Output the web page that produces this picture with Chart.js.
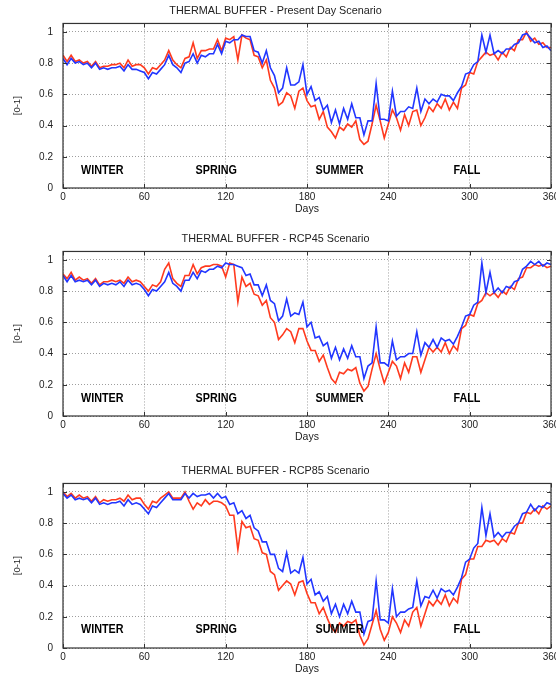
<!DOCTYPE html>
<html><head><meta charset="utf-8">
<script src="https://cdn.jsdelivr.net/npm/chart.js@4.4.1/dist/chart.umd.min.js"></script>
<style>
html,body{margin:0;padding:0;background:#fff;overflow:hidden;width:556px;height:677px;position:relative}
.p{position:absolute;left:0;width:614px;height:220px}
canvas{display:block}
</style></head><body>
<div class="p" style="top:0px"><canvas id="c1" width="614" height="220" style="width:614px;height:220px"></canvas></div>
<div class="p" style="top:228px"><canvas id="c2" width="614" height="220" style="width:614px;height:220px"></canvas></div>
<div class="p" style="top:460px"><canvas id="c3" width="614" height="220" style="width:614px;height:220px"></canvas></div>
<script>
const DAYS = [0,3,6,9,12,15,18,21,24,27,30,33,36,39,42,45,48,51,54,57,60,63,66,69,72,75,78,81,84,87,90,93,96,99,102,105,108,111,114,117,120,123,126,129,132,135,138,141,144,147,150,153,156,159,162,165,168,171,174,177,180,183,186,189,192,195,198,201,204,207,210,213,216,219,222,225,228,231,234,237,240,243,246,249,252,255,258,261,264,267,270,273,276,279,282,285,288,291,294,297,300,303,306,309,312,315,318,321,324,327,330,333,336,339,342,345,348,351,354,357,360];

const PRESENT_BLUE = [0.83,0.79,0.83,0.80,0.81,0.79,0.80,0.77,0.80,0.76,
0.77,0.76,0.77,0.77,0.78,0.75,0.79,0.76,0.76,0.75,
0.74,0.70,0.74,0.73,0.76,0.79,0.85,0.79,0.77,0.74,
0.80,0.81,0.86,0.80,0.85,0.84,0.86,0.86,0.92,0.86,
0.94,0.93,0.95,0.95,0.98,0.97,0.97,0.88,0.87,0.80,
0.88,0.77,0.72,0.61,0.64,0.77,0.66,0.66,0.68,0.79,
0.60,0.65,0.56,0.58,0.50,0.53,0.42,0.50,0.41,0.51,
0.44,0.54,0.45,0.45,0.34,0.43,0.43,0.67,0.44,0.44,
0.43,0.62,0.46,0.49,0.49,0.52,0.51,0.64,0.49,0.57,
0.54,0.57,0.55,0.60,0.59,0.59,0.56,0.61,0.65,0.73,
0.74,0.79,0.81,0.98,0.87,0.98,0.86,0.88,0.86,0.89,
0.89,0.92,0.93,0.98,0.99,0.96,0.93,0.94,0.90,0.91,
0.88];
const PRESENT_RED = [0.85,0.81,0.85,0.81,0.82,0.80,0.81,0.78,0.81,0.77,
0.78,0.78,0.79,0.79,0.80,0.77,0.82,0.78,0.79,0.79,
0.77,0.73,0.77,0.76,0.79,0.82,0.88,0.82,0.79,0.77,
0.83,0.84,0.93,0.83,0.88,0.88,0.89,0.89,0.95,0.88,
0.96,0.95,0.97,0.82,0.98,0.96,0.95,0.85,0.84,0.77,
0.82,0.69,0.64,0.53,0.55,0.61,0.59,0.51,0.62,0.64,
0.56,0.52,0.53,0.44,0.49,0.39,0.36,0.32,0.39,0.37,
0.41,0.39,0.43,0.31,0.28,0.30,0.41,0.53,0.43,0.32,
0.41,0.50,0.45,0.37,0.47,0.40,0.49,0.50,0.40,0.45,
0.52,0.49,0.54,0.51,0.57,0.50,0.55,0.51,0.64,0.66,
0.74,0.73,0.81,0.84,0.87,0.85,0.86,0.82,0.87,0.84,
0.90,0.88,0.95,0.95,1.00,0.94,0.96,0.92,0.93,0.90,
0.90];
const RCP45_BLUE = [0.90,0.86,0.90,0.86,0.87,0.86,0.87,0.84,0.87,0.83,
0.85,0.84,0.85,0.84,0.86,0.83,0.87,0.84,0.85,0.84,
0.81,0.77,0.81,0.80,0.83,0.86,0.92,0.85,0.83,0.80,
0.87,0.87,0.92,0.88,0.93,0.92,0.94,0.94,0.96,0.95,
0.98,0.97,0.97,0.96,0.95,0.90,0.91,0.84,0.84,0.77,
0.84,0.74,0.72,0.61,0.64,0.75,0.64,0.66,0.65,0.73,
0.57,0.60,0.50,0.51,0.45,0.47,0.37,0.44,0.36,0.43,
0.37,0.45,0.38,0.38,0.24,0.32,0.34,0.57,0.34,0.34,
0.32,0.48,0.36,0.38,0.38,0.40,0.40,0.54,0.39,0.47,
0.44,0.49,0.44,0.50,0.48,0.49,0.46,0.51,0.57,0.64,
0.65,0.71,0.73,0.98,0.79,0.92,0.79,0.82,0.79,0.83,
0.82,0.86,0.87,0.94,0.96,0.99,0.97,0.99,0.96,0.98,
0.97];
const RCP45_RED = [0.91,0.88,0.92,0.87,0.89,0.87,0.88,0.85,0.88,0.84,
0.86,0.86,0.87,0.86,0.87,0.85,0.89,0.86,0.87,0.86,
0.83,0.80,0.84,0.83,0.86,0.94,0.98,0.88,0.85,0.83,
0.90,0.90,0.97,0.91,0.95,0.96,0.96,0.97,0.97,0.96,
0.89,0.98,0.97,0.73,0.89,0.83,0.85,0.78,0.77,0.71,
0.74,0.63,0.60,0.49,0.52,0.56,0.54,0.47,0.56,0.56,
0.48,0.42,0.42,0.35,0.39,0.31,0.24,0.21,0.28,0.27,
0.30,0.29,0.31,0.21,0.16,0.19,0.30,0.40,0.30,0.21,
0.28,0.35,0.32,0.24,0.34,0.28,0.38,0.38,0.28,0.36,
0.44,0.41,0.44,0.41,0.47,0.40,0.45,0.42,0.56,0.58,
0.65,0.64,0.72,0.74,0.79,0.77,0.79,0.76,0.80,0.78,
0.83,0.81,0.88,0.89,0.95,0.95,0.97,0.96,0.97,0.95,
0.96];
const RCP85_BLUE = [0.99,0.96,0.98,0.95,0.96,0.95,0.96,0.93,0.96,0.92,
0.93,0.92,0.93,0.93,0.94,0.91,0.95,0.92,0.93,0.92,
0.89,0.86,0.91,0.90,0.93,0.96,0.99,0.95,0.95,0.95,
0.99,0.96,0.99,0.97,0.98,0.98,0.99,0.96,0.99,0.96,
0.97,0.92,0.93,0.86,0.88,0.83,0.85,0.77,0.75,0.68,
0.68,0.60,0.60,0.51,0.49,0.61,0.48,0.50,0.48,0.58,
0.41,0.44,0.34,0.36,0.30,0.33,0.22,0.28,0.20,0.28,
0.22,0.30,0.23,0.23,0.09,0.17,0.18,0.43,0.18,0.18,
0.16,0.38,0.20,0.23,0.23,0.25,0.26,0.43,0.27,0.33,
0.32,0.37,0.32,0.38,0.36,0.37,0.34,0.39,0.45,0.55,
0.57,0.64,0.67,0.90,0.72,0.86,0.71,0.74,0.71,0.74,
0.74,0.78,0.80,0.86,0.87,0.92,0.88,0.91,0.90,0.93,
0.92];
const RCP85_RED = [1.00,0.97,0.99,0.96,0.98,0.96,0.97,0.94,0.97,0.93,
0.95,0.94,0.95,0.95,0.96,0.94,0.98,0.95,0.96,0.96,
0.92,0.89,0.94,0.93,0.96,0.98,1.00,0.96,0.96,0.96,
1.00,0.94,0.89,0.93,0.91,0.95,0.92,0.94,0.94,0.93,
0.91,0.85,0.85,0.63,0.81,0.77,0.78,0.70,0.69,0.61,
0.60,0.49,0.47,0.37,0.40,0.43,0.41,0.34,0.42,0.43,
0.35,0.29,0.29,0.22,0.26,0.19,0.13,0.10,0.16,0.14,
0.17,0.16,0.18,0.08,0.02,0.06,0.15,0.24,0.12,0.05,
0.10,0.20,0.16,0.10,0.18,0.14,0.23,0.26,0.14,0.22,
0.30,0.27,0.31,0.28,0.34,0.27,0.32,0.29,0.44,0.47,
0.57,0.57,0.65,0.65,0.69,0.68,0.69,0.66,0.70,0.68,
0.74,0.73,0.80,0.80,0.87,0.86,0.89,0.86,0.91,0.89,
0.91];

const X_TICKS = [0,60,120,180,240,300,360];
const Y_TICKS = [0,0.2,0.4,0.6,0.8,1];
const SEASONS = ['WINTER','SPRING','SUMMER','FALL'];
const SEASON_DAYS = [29,113,204,298];
const TITLES = ['THERMAL BUFFER - Present Day Scenario','THERMAL BUFFER - RCP45 Scenario','THERMAL BUFFER - RCP85 Scenario'];
const SEASON_LEVEL = [0.113,0.113,0.122];

const RED = '#ff3a1e';
const BLUE = '#2236ff';

const framePlugin = {
  id: 'frame',
  afterDatasetsDraw(chart, args, opts) {
    const {ctx, chartArea: a, scales: {x, y}} = chart;
    ctx.save();
    ctx.fillStyle = '#000';
    ctx.font = 'bold 13px "Liberation Sans", Arial, sans-serif';
    ctx.textAlign = 'center';
    ctx.textBaseline = 'middle';
    SEASONS.forEach((s, i) => {
      const px = x.getPixelForValue(SEASON_DAYS[i]);
      const py = y.getPixelForValue(opts.level);
      ctx.save();
      ctx.translate(px, py);
      ctx.scale(0.83, 1);
      ctx.fillText(s, 0, 0);
      ctx.restore();
    });
    ctx.strokeStyle = '#333';
    ctx.lineWidth = 1.2;
    ctx.strokeRect(a.left, a.top, a.right - a.left, a.bottom - a.top);
    ctx.lineWidth = 1;
    ctx.beginPath();
    X_TICKS.forEach(t => {
      const px = Math.round(x.getPixelForValue(t)) + 0.5;
      ctx.moveTo(px, a.bottom); ctx.lineTo(px, a.bottom - 4);
      ctx.moveTo(px, a.top); ctx.lineTo(px, a.top + 4);
    });
    Y_TICKS.forEach(t => {
      const py = Math.round(y.getPixelForValue(t)) + 0.5;
      ctx.moveTo(a.left, py); ctx.lineTo(a.left + 4, py);
      ctx.moveTo(a.right, py); ctx.lineTo(a.right - 4, py);
    });
    ctx.stroke();
    ctx.restore();
  }
};

function makeChart(id, title, red, blue, level) {
  return new Chart(document.getElementById(id), {
    type: 'line',
    data: {
      datasets: [
        {label: 'blue', data: DAYS.map((d, i) => ({x: d, y: blue[i]})), borderColor: BLUE, borderWidth: 1.6, pointRadius: 0, tension: 0, fill: false},
        {label: 'red', data: DAYS.map((d, i) => ({x: d, y: red[i]})), borderColor: RED, borderWidth: 1.6, pointRadius: 0, tension: 0, fill: false}
      ]
    },
    options: {
      responsive: false,
      animation: false,
      devicePixelRatio: 1,
      layout: {padding: {left: 0, right: 63, top: 0, bottom: 0}},
      plugins: {
        legend: {display: false},
        tooltip: {enabled: false},
        title: {display: true, text: title, color: '#222',
          font: {family: '"Liberation Sans", Arial, sans-serif', size: 10.8, weight: 'normal', lineHeight: 1.2},
          padding: {top: 4.5, bottom: 6}},
        frame: {level: level}
      },
      scales: {
        x: {
          type: 'linear', min: 0, max: 360,
          afterFit: s => { s.height = 32; },
          afterBuildTicks: s => { s.ticks = X_TICKS.map(v => ({value: v})); },
          grid: {color: 'rgba(0,0,0,0.38)', lineWidth: 1, drawTicks: false},
          border: {display: false, dash: [1, 2]},
          ticks: {color: '#222', padding: 3, maxRotation: 0, autoSkip: false,
            font: {family: '"Liberation Sans", Arial, sans-serif', size: 10},
            callback: v => String(v)},
          title: {display: true, text: 'Days', color: '#222',
            font: {family: '"Liberation Sans", Arial, sans-serif', size: 10.5},
            padding: {top: 0, bottom: 4.5}}
        },
        y: {
          type: 'linear', min: 0, max: 1.054,
          afterFit: s => { s.width = 63; },
          afterBuildTicks: s => { s.ticks = Y_TICKS.map(v => ({value: v})); },
          grid: {color: 'rgba(0,0,0,0.38)', lineWidth: 1, drawTicks: false},
          border: {display: false, dash: [1, 2]},
          ticks: {color: '#222', padding: 10,
            font: {family: '"Liberation Sans", Arial, sans-serif', size: 10},
            callback: v => String(Math.round(v * 10) / 10)},
          title: {display: true, text: '[0-1]', color: '#222',
            font: {family: '"Liberation Sans", Arial, sans-serif', size: 9.5},
            padding: {top: 12, bottom: 0}}
        }
      }
    },
    plugins: [framePlugin]
  });
}

makeChart('c1', TITLES[0], PRESENT_RED, PRESENT_BLUE, SEASON_LEVEL[0]);
makeChart('c2', TITLES[1], RCP45_RED, RCP45_BLUE, SEASON_LEVEL[1]);
makeChart('c3', TITLES[2], RCP85_RED, RCP85_BLUE, SEASON_LEVEL[2]);
</script>
</body></html>
